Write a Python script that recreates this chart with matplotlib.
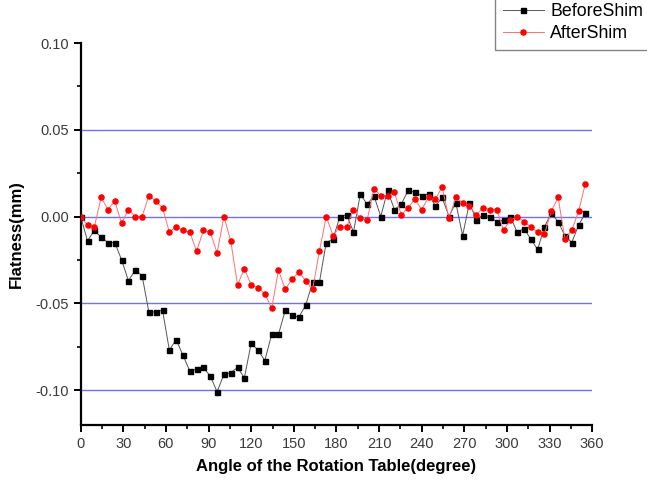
import numpy as np
import matplotlib as mpl
mpl.use('Agg')
import matplotlib.pyplot as plt
from matplotlib.ticker import MultipleLocator

plt.rcParams['font.family'] = ['Liberation Sans', 'DejaVu Sans']

# rotation angle (degree), one reading every 4.8 deg
angle = [0, 4.8, 9.6, 14.4, 19.2, 24, 28.8, 33.6, 38.4, 43.2, 48, 52.8, 57.6, 62.4, 67.2,
         72, 76.8, 81.6, 86.4, 91.2, 96, 100.8, 105.6, 110.4, 115.2, 120, 124.8, 129.6,
         134.4, 139.2, 144, 148.8, 153.6, 158.4, 163.2, 168, 172.8, 177.6, 182.4, 187.2,
         192, 196.8, 201.6, 206.4, 211.2, 216, 220.8, 225.6, 230.4, 235.2, 240, 244.8,
         249.6, 254.4, 259.2, 264, 268.8, 273.6, 278.4, 283.2, 288, 292.8, 297.6, 302.4,
         307.2, 312, 316.8, 321.6, 326.4, 331.2, 336, 340.8, 345.6, 350.4, 355.2]

before_shim = [0.0, -0.014, -0.008, -0.012, -0.015, -0.015, -0.025, -0.037, -0.031, -0.034,
               -0.055, -0.055, -0.054, -0.077, -0.071, -0.080, -0.089, -0.088, -0.087, -0.092,
               -0.101, -0.091, -0.090, -0.087, -0.093, -0.073, -0.077, -0.083, -0.068, -0.068,
               -0.054, -0.057, -0.058, -0.051, -0.038, -0.038, -0.015, -0.013, 0.0, 0.001,
               -0.009, 0.013, 0.007, 0.012, 0.0, 0.015, 0.004, 0.007, 0.015, 0.014,
               0.012, 0.013, 0.006, 0.011, 0.0, 0.008, -0.011, 0.008, -0.002, 0.001,
               0.0, -0.003, -0.002, 0.0, -0.009, -0.007, -0.013, -0.019, -0.006, 0.002,
               -0.003, -0.011, -0.015, -0.005, 0.002]

after_shim = [0.0, -0.005, -0.006, 0.011, 0.004, 0.009, -0.004, 0.004, 0.0, 0.0,
              0.012, 0.009, 0.005, -0.009, -0.006, -0.008, -0.009, -0.020, -0.008, -0.009,
              -0.021, 0.0, -0.014, -0.0395, -0.030, -0.0395, -0.041, -0.0445, -0.053, -0.031,
              -0.042, -0.036, -0.032, -0.037, -0.042, -0.020, 0.0, -0.011, -0.006, -0.006,
              0.004, -0.001, -0.002, 0.016, 0.012, 0.012, 0.014, 0.001, 0.005, 0.010,
              0.004, 0.011, 0.010, 0.017, -0.001, 0.011, 0.008, 0.006, 0.001, 0.005,
              0.004, 0.004, -0.008, -0.002, 0.0, -0.003, -0.006, -0.009, -0.010, 0.003,
              0.011, -0.013, -0.008, 0.003, 0.019]

grid_levels = [0.05, 0.0, -0.05, -0.10]

fig = plt.figure(figsize=(6.47, 4.84), dpi=100)
ax = fig.add_axes([0.1247, 0.1225, 0.7906, 0.7886])

for g in grid_levels:
    ax.axhline(g, color='#7070ff', lw=1.0, zorder=1)

ax.plot(angle, before_shim, color='#555555', lw=0.7, marker='s', ms=3.6,
        mfc='black', mec='black', label='BeforeShim', zorder=3)
ax.plot(angle, after_shim, color='#ff7070', lw=0.7, marker='o', ms=3.7,
        mfc='red', mec='red', label='AfterShim', zorder=4)

ax.set_xlim(0, 360)
ax.set_ylim(-0.12, 0.10)
ax.xaxis.set_major_locator(MultipleLocator(30))
ax.xaxis.set_minor_locator(MultipleLocator(15))
ax.yaxis.set_major_locator(MultipleLocator(0.05))
ax.yaxis.set_minor_locator(MultipleLocator(0.025))
ax.set_yticks([0.10, 0.05, 0.0, -0.05, -0.10])
ax.set_yticklabels(['0.10', '0.05', '0.00', '-0.05', '-0.10'])

for s in ['top', 'right']:
    ax.spines[s].set_visible(False)
for s in ['left', 'bottom']:
    ax.spines[s].set_linewidth(1.6)
ax.tick_params(which='major', direction='out', length=5, width=1.4,
               labelsize=10.5, labelcolor='#3a3a3a')
ax.tick_params(which='minor', direction='out', length=3, width=1.2)

ax.set_xlabel('Angle of the Rotation Table(degree)', fontsize=12, fontweight='bold', labelpad=6)
ax.set_ylabel('Flatness(mm)', fontsize=12, fontweight='bold', labelpad=8)

leg = fig.legend(loc='upper left', bbox_to_anchor=(495 / 647, 1.01), fontsize=12.8,
                 frameon=True, fancybox=False, edgecolor='#666666', handlelength=2.3,
                 borderaxespad=0, labelspacing=0.3, handletextpad=0.35, borderpad=0.45)
leg.get_frame().set_linewidth(1.0)

fig.savefig('out.png', dpi=100)
